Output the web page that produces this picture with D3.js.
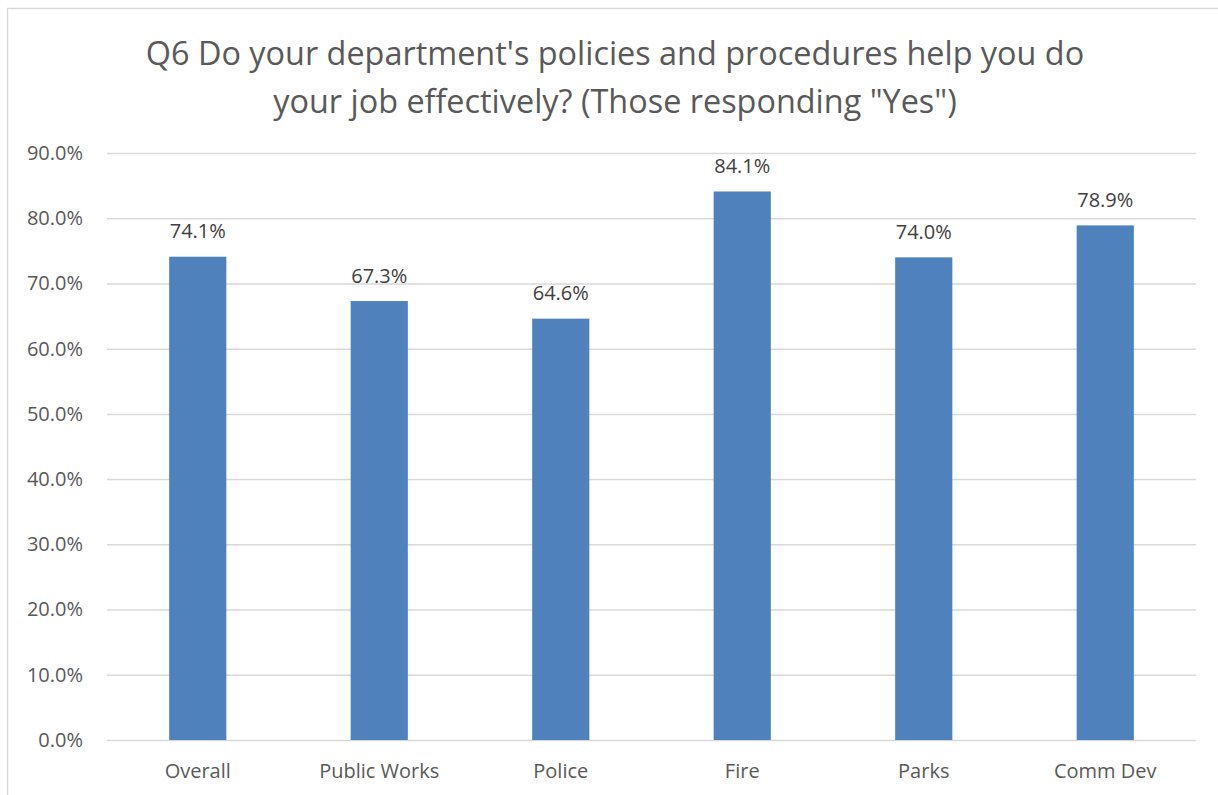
<!DOCTYPE html>
<html>
<head>
<meta charset="utf-8">
<script src="https://cdn.jsdelivr.net/npm/d3@7"></script>
<style>
  body { margin: 0; background: #fff; }
  text { font-family: "Open Sans", "Noto Sans", sans-serif; }
</style>
</head>
<body>
<svg id="body" width="1218" height="795"></svg>
<script>
let categories = ["Overall", "Public Works", "Police", "Fire", "Parks", "Comm Dev"];
let values = [0.741, 0.673, 0.646, 0.841, 0.740, 0.789];
let yTicks = [0, 0.1, 0.2, 0.3, 0.4, 0.5, 0.6, 0.7, 0.8, 0.9];
let titleLines = ["Q6 Do your department's policies and procedures help you do",
                  "your job effectively? (Those responding \"Yes\")"];

let svg = d3.select("#body");
let fs = 20;

// chart frame
svg.append("rect")
    .attr("x", 7.5).attr("y", 8.5)
    .attr("width", 1230).attr("height", 800)
    .attr("fill", "none")
    .attr("stroke", "#d9d9d9")
    .attr("stroke-width", 1.5)

svg.append("g")
    .selectAll("text")
    .data(titleLines)
    .enter()
    .append("text")
    .attr("x", 615)
    .attr("y", (d, i) => 65 + i * 48)
    .attr("text-anchor", "middle")
    .attr("font-size", 32.4)
    .attr("fill", "#595959")
    .text(d => d)

let xScale = d3.scaleBand()
    .domain(categories)
    .range([107, 1196])
    .paddingInner(0.685)
    .paddingOuter(0.3425)

let yScale = d3.scaleLinear()
    .domain([0, 0.9])
    .range([740, 153])

let yAxis = d3.axisLeft(yScale)
    .tickValues(yTicks)
    .tickFormat(d3.format(".1%"))
    .tickSize(-(1196 - 107))
    .tickPadding(24)

svg.append("g")
    .attr("id", "yAxis")
    .attr("transform", "translate(107, 0)")
    .call(yAxis)
    .call(g => g.select(".domain").remove())
    .call(g => g.selectAll("line").attr("stroke", "#d9d9d9").attr("stroke-width", 1.5))
    .call(g => g.selectAll("text").attr("fill", "#595959").attr("font-size", fs))

let xAxis = d3.axisBottom(xScale).tickSize(0).tickPadding(23.8)

svg.append("g")
    .attr("id", "xAxis")
    .attr("transform", "translate(0, 740)")
    .call(xAxis)
    .call(g => g.select(".domain").remove())
    .call(g => g.selectAll("text").attr("fill", "#595959").attr("font-size", fs))

let data = categories.map((c, i) => ({ cat: c, val: values[i] }));

svg.append("g")
    .selectAll("rect")
    .data(data)
    .enter()
    .append("rect")
    .attr("x", d => xScale(d.cat))
    .attr("width", xScale.bandwidth())
    .attr("y", d => yScale(d.val))
    .attr("height", d => 740 - yScale(d.val))
    .style("fill", "#4f81bd")

svg.append("g")
    .selectAll("text")
    .data(data)
    .enter()
    .append("text")
    .attr("x", d => xScale(d.cat) + xScale.bandwidth() / 2)
    .attr("y", d => yScale(d.val) - 18.5)
    .attr("text-anchor", "middle")
    .attr("font-size", fs)
    .attr("fill", "#404040")
    .text(d => d3.format(".1%")(d.val))
</script>
</body>
</html>
